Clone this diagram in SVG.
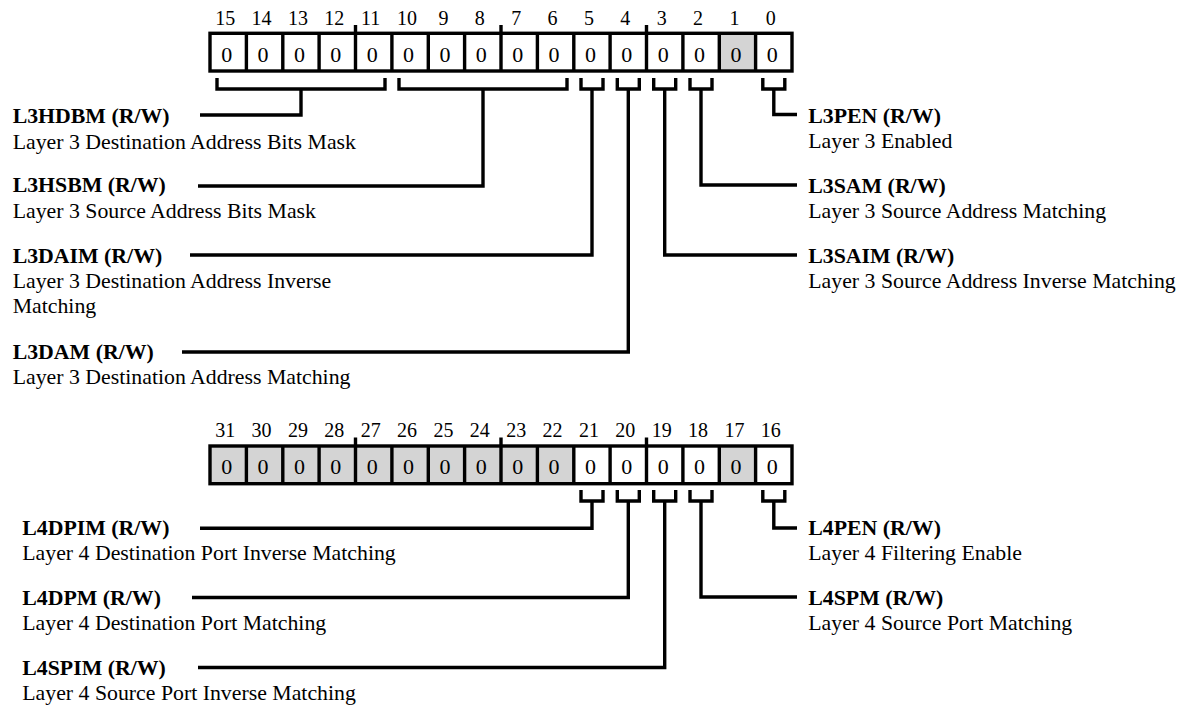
<svg xmlns="http://www.w3.org/2000/svg" width="1182" height="708" viewBox="0 0 1182 708">
<style>
.bg{fill:#ffffff}
.num{font-family:"Liberation Serif","Times New Roman",serif;font-size:20px;fill:#000;text-anchor:middle}
.val{font-family:"Liberation Serif","Times New Roman",serif;font-size:22px;fill:#000;text-anchor:middle}
.name{font-family:"Liberation Serif","Times New Roman",serif;font-size:21.8px;font-weight:bold;fill:#000}
.desc{font-family:"Liberation Serif","Times New Roman",serif;font-size:21.8px;fill:#000}
.box{fill:none;stroke:#000;stroke-width:3.4}
.div{stroke:#000;stroke-width:3.4}
.gray{fill:#d4d4d4}
.conn{fill:none;stroke:#000;stroke-width:3.4;stroke-linejoin:miter}
</style>
<rect class="bg" x="0" y="0" width="1182" height="708"/>

<g id="register-low">
  <rect class="gray" x="719.25" y="33.3" width="36.375" height="37.7"/>
  <g class="num">
    <text x="225.2" y="25">15</text><text x="261.6" y="25">14</text><text x="297.9" y="25">13</text><text x="334.3" y="25">12</text>
    <text x="370.7" y="25">11</text><text x="407.1" y="25">10</text><text x="443.4" y="25">9</text><text x="479.8" y="25">8</text>
    <text x="516.2" y="25">7</text><text x="552.6" y="25">6</text><text x="588.9" y="25">5</text><text x="625.3" y="25">4</text>
    <text x="661.7" y="25">3</text><text x="698.1" y="25">2</text><text x="734.4" y="25">1</text><text x="770.8" y="25">0</text>
  </g>
  <g class="val">
    <text x="226.7" y="61.5">0</text><text x="263.1" y="61.5">0</text><text x="299.4" y="61.5">0</text><text x="335.8" y="61.5">0</text>
    <text x="372.2" y="61.5">0</text><text x="408.6" y="61.5">0</text><text x="444.9" y="61.5">0</text><text x="481.3" y="61.5">0</text>
    <text x="517.7" y="61.5">0</text><text x="554.1" y="61.5">0</text><text x="590.4" y="61.5">0</text><text x="626.8" y="61.5">0</text>
    <text x="663.2" y="61.5">0</text><text x="699.6" y="61.5">0</text><text x="735.9" y="61.5">0</text><text x="772.3" y="61.5">0</text>
  </g>
  <rect class="box" x="210" y="33.3" width="582" height="37.7"/>
  <path class="div" d="M246.4,33.3V71M282.8,33.3V71M319.1,33.3V71M355.5,25V71M391.9,33.3V71M428.3,33.3V71M464.6,33.3V71M501,25V71M537.4,33.3V71M573.8,33.3V71M610.1,33.3V71M646.5,25V71M682.9,33.3V71M719.3,33.3V71M755.6,33.3V71"/>
</g>

<g id="register-high">
  <rect class="gray" x="210" y="446" width="363.75" height="37.7"/>
  <rect class="gray" x="719.25" y="446" width="36.375" height="37.7"/>
  <g class="num">
    <text x="225.2" y="436.7">31</text><text x="261.6" y="436.7">30</text><text x="297.9" y="436.7">29</text><text x="334.3" y="436.7">28</text>
    <text x="370.7" y="436.7">27</text><text x="407.1" y="436.7">26</text><text x="443.4" y="436.7">25</text><text x="479.8" y="436.7">24</text>
    <text x="516.2" y="436.7">23</text><text x="552.6" y="436.7">22</text><text x="588.9" y="436.7">21</text><text x="625.3" y="436.7">20</text>
    <text x="661.7" y="436.7">19</text><text x="698.1" y="436.7">18</text><text x="734.4" y="436.7">17</text><text x="770.8" y="436.7">16</text>
  </g>
  <g class="val">
    <text x="226.7" y="474.2">0</text><text x="263.1" y="474.2">0</text><text x="299.4" y="474.2">0</text><text x="335.8" y="474.2">0</text>
    <text x="372.2" y="474.2">0</text><text x="408.6" y="474.2">0</text><text x="444.9" y="474.2">0</text><text x="481.3" y="474.2">0</text>
    <text x="517.7" y="474.2">0</text><text x="554.1" y="474.2">0</text><text x="590.4" y="474.2">0</text><text x="626.8" y="474.2">0</text>
    <text x="663.2" y="474.2">0</text><text x="699.6" y="474.2">0</text><text x="735.9" y="474.2">0</text><text x="772.3" y="474.2">0</text>
  </g>
  <rect class="box" x="210" y="446" width="582" height="37.7"/>
  <path class="div" d="M246.4,446V483.7M282.8,446V483.7M319.1,446V483.7M355.5,437.5V483.7M391.9,446V483.7M428.3,446V483.7M464.6,446V483.7M501,437.5V483.7M537.4,446V483.7M573.8,446V483.7M610.1,446V483.7M646.5,437.5V483.7M682.9,446V483.7M719.3,446V483.7M755.6,446V483.7"/>
</g>

<g id="connectors">
  <path class="conn" d="M217,78V89H385V78M301,89V115H200"/>
  <path class="conn" d="M399,78V89H567V78M483,89V186H198"/>
  <path class="conn" d="M581,78V89H603V78M592,89V255H190"/>
  <path class="conn" d="M617.3,78V89H639.3V78M628.3,89V352H182"/>
  <path class="conn" d="M653.7,78V89H675.7V78M664.7,89V255H797"/>
  <path class="conn" d="M690,78V89H712V78M701,89V185H797"/>
  <path class="conn" d="M762.8,78V89H784.8V78M773.8,89V114.5H797"/>

  <path class="conn" d="M581,490V501H603V490M592,501V528.3H200"/>
  <path class="conn" d="M617.3,490V501H639.3V490M628.3,501V597.5H192"/>
  <path class="conn" d="M653.7,490V501H675.7V490M664.7,501V667.5H198"/>
  <path class="conn" d="M690,490V501H712V490M701,501V597H797"/>
  <path class="conn" d="M762.8,490V501H784.8V490M773.8,501V528H797"/>
</g>

<g id="field-L3HDBM"><text class="name" x="12.7" y="123.3">L3HDBM (R/W)</text><text class="desc" x="12.7" y="149">Layer 3 Destination Address Bits Mask</text></g>
<g id="field-L3HSBM"><text class="name" x="12.7" y="192">L3HSBM (R/W)</text><text class="desc" x="12.7" y="217.5">Layer 3 Source Address Bits Mask</text></g>
<g id="field-L3DAIM"><text class="name" x="12.7" y="263.3">L3DAIM (R/W)</text><text class="desc" x="12.7" y="288.3">Layer 3 Destination Address Inverse</text><text class="desc" x="12.7" y="313.3">Matching</text></g>
<g id="field-L3DAM"><text class="name" x="12.7" y="359.3">L3DAM (R/W)</text><text class="desc" x="12.7" y="384.3">Layer 3 Destination Address Matching</text></g>

<g id="field-L3PEN"><text class="name" x="808.3" y="123.3">L3PEN (R/W)</text><text class="desc" x="808.3" y="148.3">Layer 3 Enabled</text></g>
<g id="field-L3SAM"><text class="name" x="808.3" y="193.3">L3SAM (R/W)</text><text class="desc" x="808.3" y="218.3">Layer 3 Source Address Matching</text></g>
<g id="field-L3SAIM"><text class="name" x="808.3" y="263.3">L3SAIM (R/W)</text><text class="desc" x="808.3" y="288.3">Layer 3 Source Address Inverse Matching</text></g>

<g id="field-L4DPIM"><text class="name" x="22.3" y="535">L4DPIM (R/W)</text><text class="desc" x="22.3" y="560">Layer 4 Destination Port Inverse Matching</text></g>
<g id="field-L4DPM"><text class="name" x="22.3" y="604.5">L4DPM (R/W)</text><text class="desc" x="22.3" y="629.5">Layer 4 Destination Port Matching</text></g>
<g id="field-L4SPIM"><text class="name" x="22.3" y="675">L4SPIM (R/W)</text><text class="desc" x="22.3" y="700">Layer 4 Source Port Inverse Matching</text></g>

<g id="field-L4PEN"><text class="name" x="808.3" y="535">L4PEN (R/W)</text><text class="desc" x="808.3" y="560">Layer 4 Filtering Enable</text></g>
<g id="field-L4SPM"><text class="name" x="808.3" y="605">L4SPM (R/W)</text><text class="desc" x="808.3" y="630">Layer 4 Source Port Matching</text></g>
</svg>
